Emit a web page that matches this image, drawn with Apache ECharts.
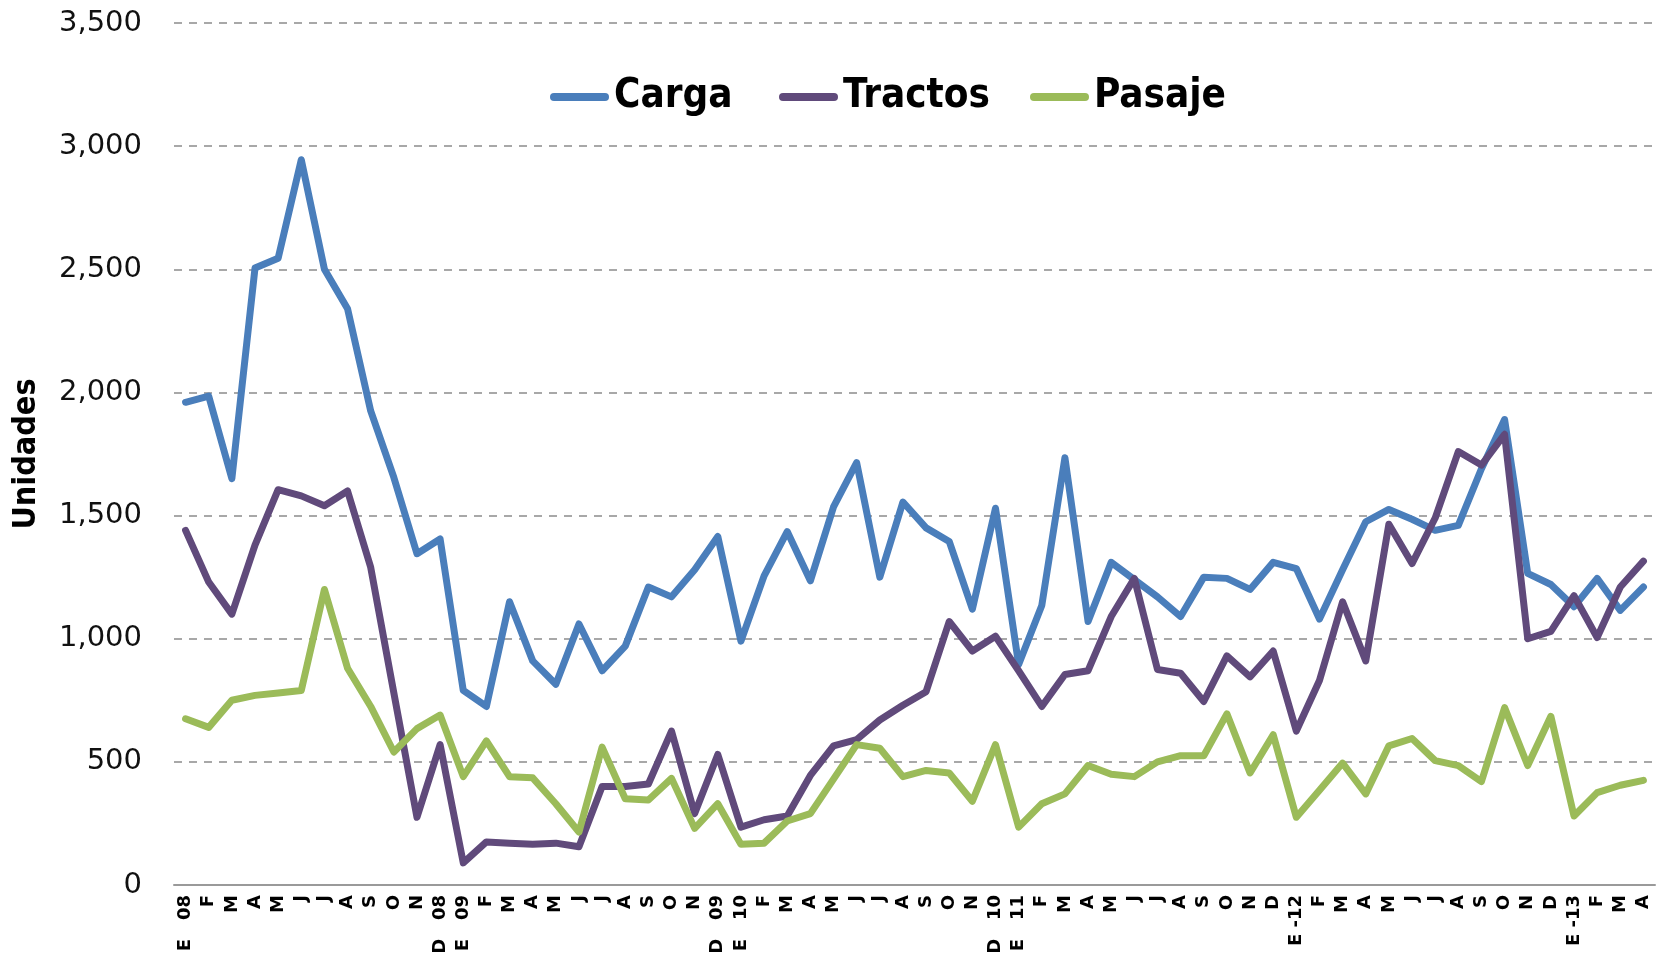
<!DOCTYPE html>
<html>
<head>
<meta charset="utf-8">
<script src="https://cdn.jsdelivr.net/npm/echarts@6/dist/echarts.min.js"></script>
<style>
  html, body { margin: 0; padding: 0; background: #fff; }
  #chart { width: 1671px; height: 956px; }
</style>
</head>
<body>
<div id="chart"></div>
<script>
// month labels, Jan 2008 .. Apr 2013
const months = [
  'E   08', 'F', 'M', 'A', 'M', 'J', 'J', 'A', 'S', 'O', 'N', 'D   08',
  'E   09', 'F', 'M', 'A', 'M', 'J', 'J', 'A', 'S', 'O', 'N', 'D   09',
  'E   10', 'F', 'M', 'A', 'M', 'J', 'J', 'A', 'S', 'O', 'N', 'D   10',
  'E   11', 'F', 'M', 'A', 'M', 'J', 'J', 'A', 'S', 'O', 'N', 'D',
  'E -12', 'F', 'M', 'A', 'M', 'J', 'J', 'A', 'S', 'O', 'N', 'D',
  'E -13', 'F', 'M', 'A'
]

const carga = [
  1960, 1985, 1650, 2505, 2545, 2945, 2500, 2340, 1925, 1655, 1345, 1405,
  790, 725, 1150, 910, 815, 1060, 870, 970, 1210, 1170, 1280, 1415,
  990, 1255, 1435, 1235, 1535, 1715, 1250, 1555, 1450, 1395, 1120, 1530,
  895, 1135, 1735, 1070, 1310, 1240, 1170, 1090, 1250, 1245, 1200, 1310,
  1285, 1080, 1280, 1475, 1525, 1485, 1440, 1460, 1690, 1890, 1265, 1220,
  1130, 1245, 1115, 1210
]

const tractos = [
  1440, 1230, 1100, 1380, 1605, 1580, 1540, 1600, 1290, 780, 275, 570,
  90, 175, 170, 165, 170, 155, 400, 400, 410, 625, 290, 530,
  235, 265, 280, 445, 565, 590, 670, 730, 785, 1070, 950, 1010,
  870, 725, 855, 870, 1090, 1245, 875, 860, 745, 930, 845, 950,
  625, 830, 1150, 910, 1465, 1305, 1490, 1760, 1705, 1830, 1000, 1030,
  1175, 1005, 1210, 1315
]

const pasaje = [
  675, 640, 750, 770, 780, 790, 1200, 880, 725, 540, 635, 690,
  440, 585, 440, 435, 330, 215, 560, 350, 345, 433, 230, 330,
  165, 170, 260, 290, 430, 570, 555, 440, 465, 455, 340, 570,
  235, 330, 370, 485, 450, 440, 500, 525, 525, 695, 455, 610,
  275, 385, 495, 370, 565, 595, 505, 485, 420, 720, 485, 685,
  280, 375, 405, 425
]

const colors = ['#4a7ebb', '#604a7b', '#9bbb59']
const capsule = 'path://M4 0H55A4 4 0 0 1 55 8H4A4 4 0 0 1 4 0Z'

function legendFor(name, left) {
  return {
    data: [name],
    left,
    top: 72,
    icon: capsule,
    itemWidth: 59,
    itemHeight: 8,
    textStyle: {
      fontFamily: 'DejaVu Sans Condensed',
      fontWeight: 'bold',
      fontSize: 40,
      color: '#000'
    }
  }
}

function lineSeries(name, data, i) {
  return {
    name,
    type: 'line',
    data,
    symbol: 'none',
    color: colors[i],
    lineStyle: { width: 7, color: colors[i], cap: 'round', join: 'round' }
  }
}

const chart = echarts.init(document.getElementById('chart'))
chart.setOption({
  animation: false,
  legend: [
    legendFor('Carga', 545),
    legendFor('Tractos', 774),
    legendFor('Pasaje', 1025)
  ],
  grid: { left: 174, right: 16, top: 23, bottom: 71, outerBoundsMode: 'none' },
  xAxis: {
    type: 'category',
    data: months,
    boundaryGap: true,
    axisLine: { lineStyle: { color: '#9a9a9a', width: 2 } },
    axisTick: { show: false },
    axisLabel: {
      interval: 0,
      rotate: 90,
      margin: 10,
      fontFamily: 'DejaVu Sans',
      fontWeight: 'bold',
      fontSize: 18,
      color: '#000'
    }
  },
  yAxis: {
    type: 'value',
    min: 0,
    max: 3500,
    interval: 500,
    name: 'Unidades',
    nameLocation: 'middle',
    nameRotate: 90,
    nameGap: 131,
    nameTextStyle: {
      fontFamily: 'DejaVu Sans Condensed',
      fontWeight: 'bold',
      fontSize: 32,
      color: '#000'
    },
    axisLine: { show: false },
    axisTick: { show: false },
    axisLabel: {
      margin: 32,
      fontFamily: 'DejaVu Sans',
      fontSize: 29,
      color: '#111',
      formatter: v => v.toLocaleString('en-US')
    },
    splitLine: { lineStyle: { color: '#8c8c8c', width: 1.5, type: [8, 7] } }
  },
  series: [
    lineSeries('Carga', carga, 0),
    lineSeries('Tractos', tractos, 1),
    lineSeries('Pasaje', pasaje, 2)
  ]
})
</script>
</body>
</html>
